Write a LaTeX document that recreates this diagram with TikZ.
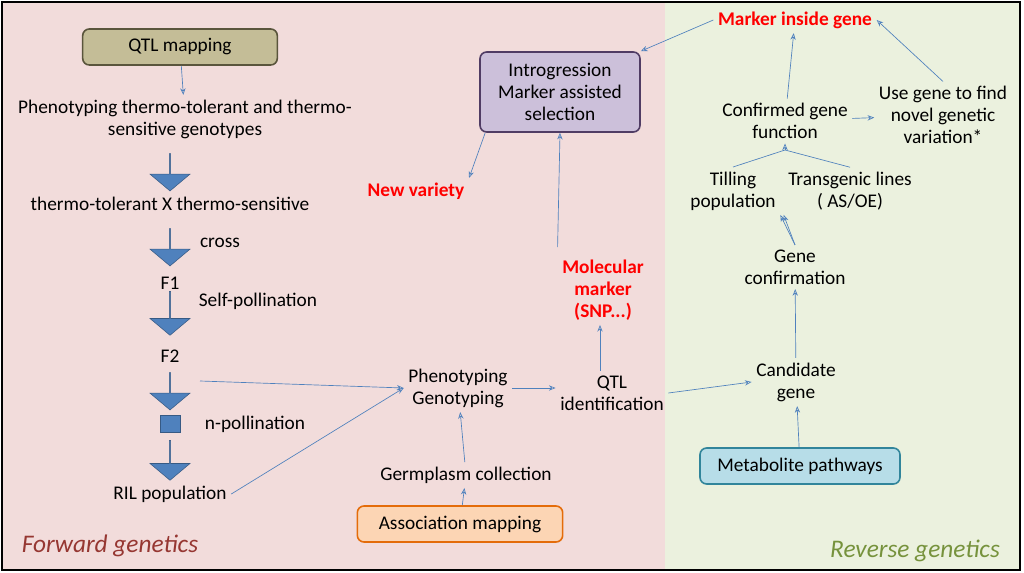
\documentclass[tikz,border=0pt]{standalone}
\usepackage{fontspec}
\setmainfont{Carlito}
\usetikzlibrary{positioning, shapes.arrows, arrows.meta}
\definecolor{lineblue}{RGB}{79,129,189}
\definecolor{pinkbg}{RGB}{242,220,219}
\definecolor{greenbg}{RGB}{235,241,222}
\definecolor{redtxt}{RGB}{255,0,0}
\tikzset{
  txt/.style={align=center, font=\fontsize{14.5}{16.5}\selectfont},
  red txt/.style={txt, text=redtxt, font=\fontsize{14.5}{16.5}\selectfont\bfseries},
  box/.style={txt, draw, rounded corners=5pt, line width=1.2pt, minimum height=27pt},
  link/.style={lineblue, -{Stealth[length=5pt,width=4pt,open]}, line width=0.5pt},
  fat/.style={single arrow, draw=lineblue!70!black, fill=lineblue, rotate=270, inner sep=0pt,
    minimum width=30pt, single arrow head extend=6pt, single arrow tip angle=100}
}
\begin{document}
\begin{tikzpicture}[x=0.75pt, y=-0.75pt]
  \useasboundingbox (0,0) rectangle (1024,573);
  \fill[pinkbg] (2,2) rectangle (665,570);
  \fill[greenbg] (665,2) rectangle (1020,570);
  \draw[line width=1.2pt] (2,2) rectangle (1020,570);

  % forward genetics
  \node[box, fill={rgb,255:red,196;green,189;blue,151}, draw={rgb,255:red,90;green,85;blue,60}, minimum width=146pt] (qtlmap) at (180,47) {QTL mapping};
  \node[txt] (pheno1) at (185,119) {Phenotyping thermo-tolerant and thermo-\\sensitive genotypes};
  \node[txt] (cross) at (170,204) {thermo-tolerant X thermo-sensitive};
  \node[txt] (crosslbl) at (220,243) {cross};
  \node[txt] (f1) at (170,283) {F1};
  \node[txt] (selflbl) at (258,301) {Self-pollination};
  \node[txt] (f2) at (170,356) {F2};
  \node[txt] (nlbl) at (255,424) {n-pollination};
  \node[txt] (ril) at (170,494) {RIL population};
  \node[fat, minimum height=28pt] (a1) at (170,172) {};
  \node[fat, minimum height=28pt] (a2) at (170,247) {};
  \node[fat, minimum height=33pt] (a3) at (170,313) {};
  \node[fat, minimum height=28pt] (a4) at (170,391) {};
  \node[draw=lineblue!70!black, fill=lineblue, minimum width=15pt, minimum height=13pt, inner sep=0pt] (a5) at (170,424) {};
  \node[fat, minimum height=30pt] (a6) at (170,460) {};
  \node[font=\fontsize{19}{22}\selectfont\itshape, text={rgb,255:red,150;green,55;blue,50}] (fwd) at (110,546) {Forward genetics};

  % middle
  \node[box, fill={rgb,255:red,204;green,192;blue,218}, draw={rgb,255:red,80;green,60;blue,100}, minimum width=120pt, minimum height=60pt] (intro) at (560,92) {Introgression\\Marker assisted\\selection};
  \node[red txt] (newvar) at (416,191) {New variety};
  \node[red txt] (molmark) at (603,290) {Molecular\\marker\\(SNP...)};
  \node[txt] (phgen) at (458,388) {Phenotyping\\Genotyping};
  \node[txt] (qtlid) at (612,393) {QTL\\identification};
  \node[txt] (germ) at (466,475) {Germplasm collection};
  \node[box, fill={rgb,255:red,252;green,213;blue,180}, draw={rgb,255:red,228;green,108;blue,10}, minimum width=154pt] (assoc) at (460,524) {Association mapping};

  % reverse genetics
  \node[red txt] (inside) at (795,20) {Marker inside gene};
  \node[txt] (confirm) at (785,121) {Confirmed gene\\function};
  \node[txt] (usegene) at (943,115) {Use gene to find\\novel genetic\\variation*};
  \node[txt] (tilling) at (733,191) {Tilling\\population};
  \node[txt] (transg) at (850,191) {Transgenic lines\\( AS/OE)};
  \node[txt] (geneconf) at (795,267) {Gene\\confirmation};
  \node[txt] (cand) at (796,382) {Candidate\\gene};
  \node[box, fill={rgb,255:red,183;green,221;blue,232}, draw={rgb,255:red,49;green,133;blue,155}, minimum width=150pt] (metab) at (800,466) {Metabolite pathways};
  \node[font=\fontsize{19}{22}\selectfont\itshape, text={rgb,255:red,118;green,146;blue,60}] (rev) at (915,551) {Reverse genetics};
  \coordinate (join) at (785,150);

  \draw[link] (qtlmap) -- (pheno1);
  \draw[link] (200,381) -- (phgen.west);
  \draw[link] (ril.east) -- (phgen.west);
  \draw[link] (germ) -- (phgen);
  \draw[link] (assoc) -- (germ);
  \draw[link] (phgen) -- (qtlid.west |- phgen);
  \draw[link] (qtlid.north -| 600,0) -- (molmark.south -| 600,0);
  \draw[link] (qtlid.east) -- (cand.west);
  \draw[link] (molmark.north west) ++(0,-8) -- (intro.south);
  \draw[link] (intro.south west) ++(6,0) -- (newvar.north east);
  \draw[link] (inside.west) -- (intro.north east);
  \draw[link] (metab) -- (cand);
  \draw[link] (cand) -- (geneconf);
  \draw[link] (geneconf.north) -- (tilling.south east);
  \draw[link] (geneconf.north) -- (transg.south west);
  \draw[-, lineblue, line width=0.5pt] (tilling.north) -- (join);
  \draw[-, lineblue, line width=0.5pt] (transg.north) -- (join);
  \draw[link] (join) -- (confirm.south);
  \draw[link] (confirm) -- (inside);
  \draw[link] (confirm) -- (usegene);
  \draw[link] (usegene.north) -- (inside.east);
\end{tikzpicture}
\end{document}
